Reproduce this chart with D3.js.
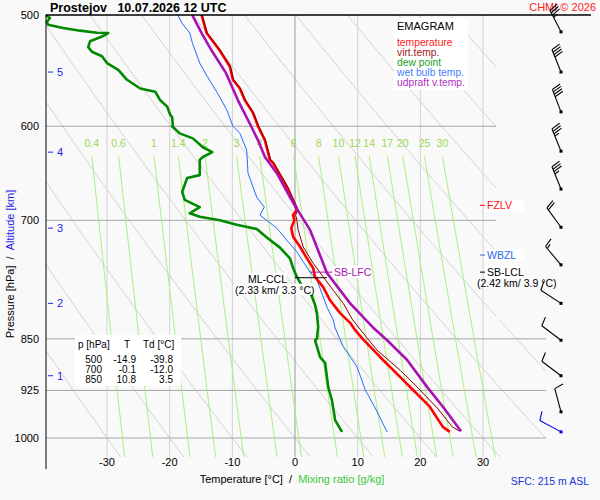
<!DOCTYPE html>
<html>
<head>
<meta charset="utf-8">
<script src="https://cdn.jsdelivr.net/npm/d3@7"></script>
<style>
body { margin: 0; background: #f9f9f9; }
svg { display: block; font-family: "Liberation Sans", Arial, sans-serif; }
</style>
</head>
<body>
<svg id="emagram"></svg>
<script>
const width  = 600
const height = 500

// temperature profile (hPa, °C)
const tempP = [500, 515, 530, 544, 556, 564, 575, 587, 600, 614, 634, 637, 663, 683, 688, 694, 700, 709, 719, 731, 745, 757, 768, 781, 798, 815, 828, 838, 850, 876, 905, 924, 950, 982, 990]
const tempT = [-14.9, -14.1, -12.0, -10.4, -9.9, -8.8, -8.0, -6.7, -5.9, -4.8, -4.0, -3.5, -1.3, 0.0, 0.3, -0.3, -0.1, -0.6, -0.3, 0.8, 1.9, 2.9, 3.2, 4.5, 5.6, 7.2, 8.8, 9.6, 10.8, 13.6, 16.8, 18.8, 21.5, 23.6, 24.7]

// virtual temperature
const virtP = [500, 515, 530, 544, 556, 564, 575, 587, 600, 614, 634, 637, 663, 683, 688, 694, 700, 711, 731, 751, 768, 785, 802, 824, 850, 866, 895, 920, 952, 982, 989]
const virtT = [-14.8, -14.0, -11.9, -10.3, -9.8, -8.7, -7.9, -6.6, -5.8, -4.7, -3.9, -3.4, -1.1, 0.2, 0.5, 0.1, 0.3, 0.5, 1.3, 2.9, 4.5, 6.1, 7.7, 9.2, 11.6, 13.1, 16.8, 19.5, 22.7, 25.1, 26.3]

// dew point
const dewP = [500, 502.5, 505.7, 508, 510.8, 513, 514.7, 515, 518, 522, 527, 531, 535, 541, 547, 556, 564, 567, 575, 581, 589, 591, 599, 600, 607, 612, 621, 626, 631, 634, 650, 653, 668, 677, 685, 692, 696, 700, 705, 710, 720, 732, 745, 757, 768, 782, 787, 804, 815, 834, 850, 852, 876, 884, 920, 940, 971, 990]
const dewT = [-39.8, -39.1, -39.6, -39.4, -37.0, -34.3, -31.6, -29.8, -30.8, -32.7, -33.0, -32.4, -30.8, -30.0, -28.2, -26.8, -24.7, -22.3, -21.5, -20.4, -19.9, -19.6, -19.5, -19.6, -18.4, -16.3, -14.7, -13.2, -14.7, -15.2, -15.2, -17.2, -18.0, -17.6, -15.2, -16.8, -15.2, -12.0, -9.3, -6.1, -4.5, -2.4, -0.8, -0.3, 0.3, 1.3, 2.4, 3.2, 3.5, 3.7, 3.5, 3.2, 4.0, 4.8, 5.3, 5.9, 6.4, 7.5]

// wet bulb temperature
const wetP = [500, 507, 515, 523, 541, 553, 568, 584, 600, 607, 624, 648, 674, 685, 694, 709, 725, 737, 749, 762, 772, 789, 807, 824, 835, 861, 890, 924, 952, 974, 990]
const wetT = [-18.7, -18.0, -16.8, -16.4, -15.2, -14.0, -12.4, -10.9, -9.9, -8.8, -7.7, -7.5, -6.1, -4.9, -5.6, -2.9, -1.1, 0.3, 1.3, 2.4, 3.5, 4.3, 5.1, 6.1, 6.4, 7.7, 9.9, 11.2, 12.8, 13.9, 14.7]

// updraft virtual temperature (parcel)
const parcelP = [500, 515, 530, 550, 575, 600, 614, 631, 648, 674, 687, 711, 763, 802, 834, 852, 880, 920, 950, 989]
const parcelT = [-16.4, -14.9, -13.3, -11.0, -9.1, -7.0, -5.9, -4.8, -2.9, -0.8, 0.3, 2.4, 5.1, 8.8, 12.4, 14.7, 17.9, 21.1, 23.6, 26.5]

// wind barbs (hPa, direction deg, speed kt)
const windP   = [514, 549, 586, 625, 665, 708, 753, 802, 852, 903, 958, 990]
const windDir = [333, 338, 339, 338, 338, 324, 320, 303, 307, 307, 345, 298]
const windKt  = [35, 40, 40, 35, 35, 20, 15, 10, 10, 10, 10, 10]

// axes and grid
const isobars       = [600, 700, 850, 925, 1000]
const pressureTicks = [500, 600, 700, 850, 925, 1000]
const tempTicks     = [-30, -20, -10, 0, 10, 20, 30]
const altKm         = [1, 2, 3, 4, 5]
const altP          = [903, 802, 709, 626, 549]
const dryAdiabats   = [-30, -20, -10, 0, 10, 20, 30, 40, 50, 60, 70, 80, 90, 100]
const mixRatios     = [0.4, 0.6, 1, 1.4, 2, 3, 4, 6, 8, 10, 12, 14, 17, 20, 25, 30]

// table
const tableP  = ["500", "700", "850"]
const tableT  = ["-14.9", "-0.1", "10.8"]
const tableTd = ["-39.8", "-12.0", "3.5"]

const plotLeft = 46, plotRight = 496, plotTop = 15, plotBottom = 457

let svg = d3.select("#emagram")
            .attr("width", width)
            .attr("height", height)

svg.append("rect").attr("width", width).attr("height", height).attr("fill", "#f9f9f9")

const x = d3.scaleLinear().domain([-30, 30]).range([107, 483])
const y = d3.scaleLog().domain([500, 1000]).range([15, 438])

const line = d3.line().x(d => x(d[1])).y(d => y(d[0]))
const zip = (ps, ts) => ps.map((p, i) => [p, ts[i]])

// plot area (a little wider at the bottom)
const clip = svg.append("clipPath").attr("id", "plotclip")
clip.append("rect").attr("x", plotLeft).attr("y", plotTop).attr("width", plotRight - plotLeft).attr("height", plotBottom - plotTop)
clip.append("rect").attr("x", plotRight - 1).attr("y", 320).attr("width", 51).attr("height", plotBottom - 320)

const grid = svg.append("g").attr("clip-path", "url(#plotclip)")

// dry adiabats
const pSteps = d3.range(500, 1061, 5)
grid.append("g")
    .selectAll("path")
    .data(dryAdiabats)
    .enter().append("path")
    .attr("d", th => line(pSteps.map(p => [p, (th + 273.15) * Math.pow(p / 1000, 0.2857) - 273.15])))
    .attr("fill", "none")
    .attr("stroke", "#d2d2d2")
    .attr("stroke-width", 1)

// isotherms
grid.append("g")
    .selectAll("line")
    .data(tempTicks)
    .enter().append("line")
    .attr("x1", d => x(d)).attr("x2", d => x(d))
    .attr("y1", plotTop).attr("y2", plotBottom)
    .attr("stroke", d => d === 0 ? "#999" : "#d2d2d2")

// isobars
grid.append("g")
    .selectAll("line")
    .data(isobars)
    .enter().append("line")
    .attr("x1", plotLeft).attr("x2", 546)
    .attr("y1", d => y(d)).attr("y2", d => y(d))
    .attr("stroke", "#a6a6a6")

// mixing ratio lines
const dewFromMix = (w, p) => {
    const e = w * p / (622 + w)
    const l = Math.log(e / 6.112)
    return 243.5 * l / (17.67 - l)
}
const mixSteps = d3.range(630, 1061, 5)
const mixG = svg.append("g")
mixG.append("g").attr("clip-path", "url(#plotclip)")
    .selectAll("path")
    .data(mixRatios)
    .enter().append("path")
    .attr("d", w => line(mixSteps.map(p => [p, dewFromMix(w, p)])))
    .attr("fill", "none")
    .attr("stroke", "#a8f07c")
    .attr("stroke-width", 1)
mixG.selectAll("text")
    .data(mixRatios)
    .enter().append("text")
    .attr("x", w => x(dewFromMix(w, 630)))
    .attr("y", 147)
    .attr("text-anchor", "middle")
    .attr("fill", "#9ad84e")
    .style("font-size", "10.5px")
    .text(d => d)

// profiles
const drawProfile = (data, color, w) => {
    svg.append("path")
        .attr("d", line(data))
        .attr("fill", "none")
        .attr("stroke", color)
        .attr("stroke-width", w)
        .attr("stroke-linejoin", "round")
}
drawProfile(zip(wetP, wetT), "#1f6fff", 1)
drawProfile(zip(dewP, dewT), "#008a00", 2.6)
drawProfile(zip(tempP, tempT), "#ff0000", 2.6)
drawProfile(zip(virtP, virtT), "#8b0000", 1)
drawProfile(zip(parcelP, parcelT), "#a812b4", 2.6)

// frame
svg.append("line").attr("x1", plotLeft).attr("x2", plotLeft).attr("y1", plotTop).attr("y2", 469).attr("stroke", "#000")
svg.append("line").attr("x1", plotLeft).attr("x2", 591).attr("y1", plotTop).attr("y2", plotTop).attr("stroke", "#000").attr("stroke-width", 1.5)

// pressure labels
svg.append("g")
    .selectAll("text")
    .data(pressureTicks)
    .enter().append("text")
    .attr("x", 39)
    .attr("y", d => y(d) + 4)
    .attr("text-anchor", "end")
    .style("font-size", "11px")
    .text(d => d)

// altitude ticks
const altG = svg.append("g").attr("fill", "#2222ee")
altG.selectAll("line")
    .data(altP)
    .enter().append("line")
    .attr("x1", 48).attr("x2", 53)
    .attr("y1", d => y(d)).attr("y2", d => y(d))
    .attr("stroke", "#2222ee")
altG.selectAll("text")
    .data(altKm)
    .enter().append("text")
    .attr("x", 57)
    .attr("y", (d, i) => y(altP[i]) + 4)
    .style("font-size", "11px")
    .text(d => d)

// temperature labels
svg.append("g")
    .selectAll("text")
    .data(tempTicks)
    .enter().append("text")
    .attr("x", d => x(d))
    .attr("y", 466)
    .attr("text-anchor", "middle")
    .style("font-size", "11px")
    .text(d => d)

// axis titles
const xTitle = svg.append("text").attr("x", 292).attr("y", 483).attr("text-anchor", "middle").style("font-size", "11px")
xTitle.append("tspan").text("Temperature [°C]\u00a0\u00a0/\u00a0\u00a0")
xTitle.append("tspan").attr("fill", "#3cc83c").text("Mixing ratio [g/kg]")

const yTitle = svg.append("text").attr("transform", "translate(14,264) rotate(-90)").attr("text-anchor", "middle").style("font-size", "11px")
yTitle.append("tspan").text("Pressure [hPa]\u00a0\u00a0/\u00a0\u00a0")
yTitle.append("tspan").attr("fill", "#2222ee").text("Altitude [km]")

// title and credits
svg.append("text").attr("x", 50).attr("y", 12).style("font-size", "12.5px").style("font-weight", "bold")
    .text("Prostejov\u00a0\u00a0\u00a010.07.2026 12 UTC")
svg.append("text").attr("x", 596).attr("y", 11).attr("text-anchor", "end").attr("fill", "#ff2020").style("font-size", "11px")
    .text("CHMI © 2026")
svg.append("text").attr("x", 589).attr("y", 485).attr("text-anchor", "end").attr("fill", "#2233dd").style("font-size", "10.5px")
    .text("SFC: 215 m ASL")

// legend
const legendNames  = ["temperature", "virt.temp.", "dew point", "wet bulb temp.", "udpraft v.temp."]
const legendColors = ["#ff2020", "#a02020", "#22a022", "#3f7fff", "#b030c0"]
const legend = svg.append("g")
legend.append("rect").attr("x", 394).attr("y", 18).attr("width", 74).attr("height", 72).attr("fill", "#fff")
legend.append("text").attr("x", 397).attr("y", 30).style("font-size", "11px").text("EMAGRAM")
legend.selectAll(".entry")
    .data(legendNames)
    .enter().append("text")
    .attr("class", "entry")
    .attr("x", 397)
    .attr("y", (d, i) => 45.5 + i * 10)
    .attr("fill", (d, i) => legendColors[i])
    .style("font-size", "10.3px")
    .text(d => d)

// table
const table = svg.append("g").style("font-size", "10px")
table.append("rect").attr("x", 75).attr("y", 335).attr("width", 106).attr("height", 51).attr("fill", "#fff")
table.append("text").attr("x", 78).attr("y", 347.5).text("p [hPa]")
table.append("text").attr("x", 127).attr("y", 347.5).attr("text-anchor", "middle").text("T")
table.append("text").attr("x", 143).attr("y", 347.5).text("Td [°C]")
tableP.forEach((p, i) => {
    const ty = 362.5 + i * 10
    table.append("text").attr("x", 102).attr("y", ty).attr("text-anchor", "end").text(p)
    table.append("text").attr("x", 136).attr("y", ty).attr("text-anchor", "end").text(tableT[i])
    table.append("text").attr("x", 173).attr("y", ty).attr("text-anchor", "end").text(tableTd[i])
})

// level markers
const fzlvP = 683, wbzlP = 741, lclP = 762, lfcP = 762, cclP = 769
const marker = (p, label, color, sub) => {
    const g = svg.append("g").style("font-size", "10.5px")
    const yy = y(p)
    g.append("rect").attr("x", 485).attr("y", yy - 6).attr("width", sub ? 36 : 39).attr("height", 12).attr("fill", "#fff")
    g.append("line").attr("x1", 480).attr("x2", 485).attr("y1", yy).attr("y2", yy).attr("stroke", color)
    g.append("text").attr("x", 487).attr("y", yy + 4).attr("fill", color).text(label)
    if (sub) {
        g.append("text").attr("x", 477).attr("y", yy + 15).attr("fill", color).text(sub)
    }
}
marker(fzlvP, "FZLV", "#ff1010")
marker(wbzlP, "WBZL", "#2a6ae8")
marker(lclP, "SB-LCL", "#000", "(2.42 km/ 3.9 °C)")

const lfc = svg.append("g").style("font-size", "10.5px")
lfc.append("rect").attr("x", 333).attr("y", y(lfcP) - 6).attr("width", 36).attr("height", 12).attr("fill", "#fff")
lfc.append("line").attr("x1", x(2.4)).attr("x2", x(5.9)).attr("y1", y(lfcP)).attr("y2", y(lfcP)).attr("stroke", "#a812b4")
lfc.append("text").attr("x", 334).attr("y", y(lfcP) + 4).attr("fill", "#a812b4").text("SB-LFC")

const ccl = svg.append("g").style("font-size", "10.5px")
ccl.append("rect").attr("x", 249).attr("y", y(cclP) - 5).attr("width", 38).attr("height", 11).attr("fill", "#fff")
ccl.append("rect").attr("x", 234).attr("y", y(cclP) + 6).attr("width", 80).attr("height", 11).attr("fill", "#fff")
ccl.append("line").attr("x1", x(0)).attr("x2", x(5.1)).attr("y1", y(cclP)).attr("y2", y(cclP)).attr("stroke", "#000")
ccl.append("text").attr("x", 287).attr("y", y(cclP) + 5).attr("text-anchor", "end").text("ML-CCL")
ccl.append("text").attr("x", 235).attr("y", y(cclP) + 16).text("(2.33 km/ 3.3 °C)")

// wind barbs
const drawBarb = (p, dir, kt, color) => {
    const g = svg.append("g").attr("stroke", color).attr("stroke-width", 1.1)
    const bx = 561, by = y(p), len = 24
    const r = dir * Math.PI / 180
    const ux = Math.sin(r), uy = -Math.cos(r)
    const px = -uy, py = ux
    g.append("line").attr("x1", bx).attr("y1", by).attr("x2", bx + ux * len).attr("y2", by + uy * len)
    let pos = len
    const full = Math.floor(kt / 10)
    const half = Math.round((kt % 10) / 5)
    for (let i = 0; i < full; i++) {
        const sx = bx + ux * pos, sy = by + uy * pos
        g.append("line").attr("x1", sx).attr("y1", sy)
            .attr("x2", sx + 9.5 * (px * 0.96 + ux * 0.25)).attr("y2", sy + 9.5 * (py * 0.96 + uy * 0.25))
        pos -= 2.6
    }
    if (half) {
        const sx = bx + ux * pos, sy = by + uy * pos
        g.append("line").attr("x1", sx).attr("y1", sy)
            .attr("x2", sx + 5 * (px * 0.96 + ux * 0.25)).attr("y2", sy + 5 * (py * 0.96 + uy * 0.25))
    }
    svg.append("rect").attr("x", bx - 1.5).attr("y", by - 1.5).attr("width", 3).attr("height", 3).attr("fill", color)
}
windP.forEach((p, i) => drawBarb(p, windDir[i], windKt[i], i === windP.length - 1 ? "#0000ee" : "#000"))
</script>
</body>
</html>
